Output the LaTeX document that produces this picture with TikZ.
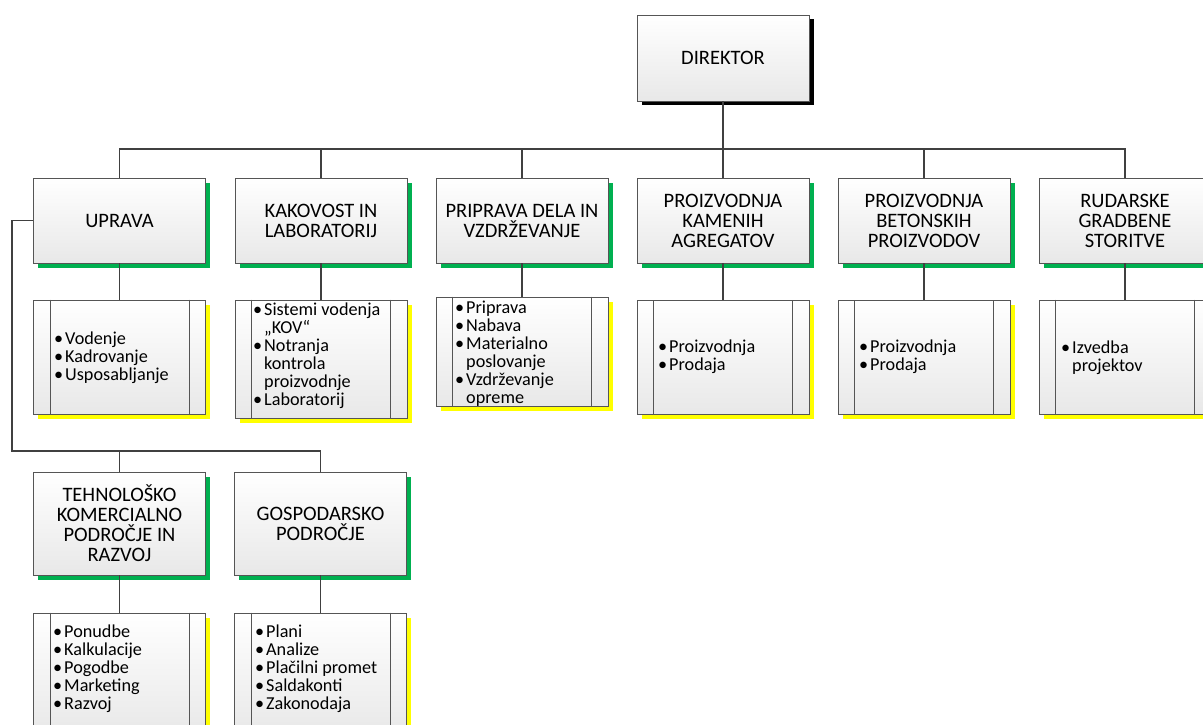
\documentclass[tikz,border=0pt]{standalone}
\usepackage{fontspec}
\setmainfont{Carlito}
\usetikzlibrary{shadows}
\definecolor{lc}{HTML}{404040}
\definecolor{bc}{HTML}{555555}
\definecolor{gsh}{HTML}{00B050}
\definecolor{ysh}{HTML}{FFFF00}
\newcommand\bul{\makebox[11pt][l]{•}}
\newcommand\ind{\hspace*{11pt}}
\tikzset{
  boxbase/.style={draw=bc, line width=0.9pt, top color=white, bottom color=black!9, inner sep=0pt},
  titlebox/.style={boxbase, minimum width=172pt, minimum height=85pt, align=center,
    font=\fontsize{20.5}{20}\selectfont,
    drop shadow={shadow xshift=4.5pt, shadow yshift=-4.5pt, fill=gsh, opacity=1}},
  dirbox/.style={boxbase, minimum width=172pt, minimum height=86pt, align=center,
    font=\fontsize{20.5}{20}\selectfont,
    drop shadow={shadow xshift=4.5pt, shadow yshift=-4.5pt, fill=black, opacity=1}},
  listbox/.style={boxbase, minimum width=172pt,
    drop shadow={shadow xshift=4.5pt, shadow yshift=-4.5pt, fill=ysh, opacity=1}},
  inner/.style={draw=bc, line width=0.9pt},
  conn/.style={draw=lc, line width=1.8pt},
  listtext/.style={anchor=base west, align=left, font=\fontsize{18.2}{18}\selectfont, inner sep=0pt}
}
\begin{document}
\begin{tikzpicture}[x=1pt,y=-1pt]
\useasboundingbox (0,0) rectangle (1203,725);
% title boxes
\node[dirbox] (dir) at (723,58) {DIREKTOR};
\node[titlebox] (upr) at (119.5,220.5) {UPRAVA};
\node[titlebox] (kak) at (321,220.5) {KAKOVOST IN\\LABORATORIJ};
\node[titlebox] (pri) at (522,220.5) {PRIPRAVA DELA IN\\VZDRŽEVANJE};
\node[titlebox] (kam) at (723,220.5) {PROIZVODNJA\\KAMENIH\\AGREGATOV};
\node[titlebox] (bet) at (924,220.5) {PROIZVODNJA\\BETONSKIH\\PROIZVODOV};
\node[titlebox] (rud) at (1125,220.5) {RUDARSKE\\GRADBENE\\STORITVE};
\node[titlebox, minimum height=103pt] (teh) at (119.5,523.5) {TEHNOLOŠKO\\KOMERCIALNO\\PODROČJE IN\\RAZVOJ};
\node[titlebox, minimum height=103pt] (gos) at (320.5,523.5) {GOSPODARSKO\\PODROČJE};
% list boxes
\node[listbox, minimum height=114pt] (lupr) at (119.5,357) {};
\node[listbox, minimum height=118pt] (lkak) at (321,359) {};
\node[listbox, minimum height=109pt] (lpri) at (522,351.5) {};
\node[listbox, minimum height=114pt] (lkam) at (723,357.5) {};
\node[listbox, minimum height=114pt] (lbet) at (924,357.5) {};
\node[listbox, minimum height=114pt] (lrud) at (1125,357) {};
\node[listbox, minimum height=122pt] (lteh) at (119.5,674) {};
\node[listbox, minimum height=122pt] (lgos) at (320.5,674) {};
\foreach \n in {lupr,lkak,lpri,lkam,lbet,lrud,lteh,lgos}{
  \draw[inner] ([xshift=17pt]\n.north west) -- ([xshift=17pt]\n.south west);
  \draw[inner] ([xshift=-17pt]\n.north east) -- ([xshift=-17pt]\n.south east);
}
% list texts (anchor = baseline of last line)
\node[listtext] (tupr) at (54,380) {\bul Vodenje\\\bul Kadrovanje\\\bul Usposabljanje};
\node[listtext] (tkak) at (253,405) {\bul Sistemi vodenja\\\ind „KOV“\\\bul Notranja\\\ind kontrola\\\ind proizvodnje\\\bul Laboratorij};
\node[listtext] (tpri) at (455,403) {\bul Priprava\\\bul Nabava\\\bul Materialno\\\ind poslovanje\\\bul Vzdrževanje\\\ind opreme};
\node[listtext] (tkam) at (658,370) {\bul Proizvodnja\\\bul Prodaja};
\node[listtext] (tbet) at (859,370) {\bul Proizvodnja\\\bul Prodaja};
\node[listtext] (trud) at (1061,371) {\bul Izvedba\\\ind projektov};
\node[listtext] (tteh) at (53,709) {\bul Ponudbe\\\bul Kalkulacije\\\bul Pogodbe\\\bul Marketing\\\bul Razvoj};
\node[listtext] (tgos) at (255,709) {\bul Plani\\\bul Analize\\\bul Plačilni promet\\\bul Saldakonti\\\bul Zakonodaja};
% connectors
\coordinate (bus) at (723,149);
\coordinate (lb) at (12,451);
\draw[conn] (dir.south) -- (bus);
\foreach \n in {upr,kak,pri,kam,bet,rud}{
  \draw[conn] (bus) -| (\n.north);
}
\draw[conn] (upr.south) -- (lupr.north);
\draw[conn] (kak.south) -- (lkak.north);
\draw[conn] (pri.south) -- (lpri.north);
\draw[conn] (kam.south) -- (lkam.north);
\draw[conn] (bet.south) -- (lbet.north);
\draw[conn] (rud.south) -- (lrud.north);
\draw[conn] (upr.west) -| (lb) -| (gos.north);
\draw[conn] (teh.north |- lb) -- (teh.north);
\draw[conn] (teh.south) -- (lteh.north);
\draw[conn] (gos.south) -- (lgos.north);
\end{tikzpicture}
\end{document}
